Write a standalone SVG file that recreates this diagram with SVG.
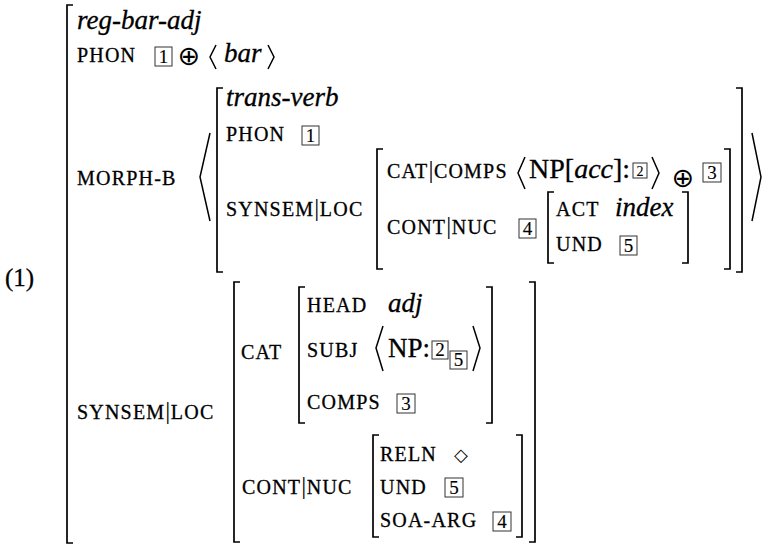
<svg xmlns="http://www.w3.org/2000/svg" width="765" height="546" viewBox="0 0 765 546">
<style>
text { font-family: 'Liberation Serif', 'Times New Roman', serif; fill: #000; stroke: #000; stroke-width: 0.3px; }
.it { font-style: italic; font-size: 27px; }
.rm { font-size: 27px; }
.sc { font-size: 20px; letter-spacing: 1.2px; }
.vb { font-size: 25px; letter-spacing: 0.5px; stroke-width: 0; }
.num { font-size: 19px; text-anchor: middle; stroke-width: 0.15px; }
.snum { font-size: 14px; text-anchor: middle; stroke-width: 0.1px; }
.op { font-family: 'DejaVu Sans', sans-serif; font-size: 27px; text-anchor: middle; stroke-width: 0; }
.dia { font-family: 'DejaVu Sans', sans-serif; font-size: 18px; text-anchor: middle; stroke-width: 0; }
.br { fill: none; stroke: #000; stroke-width: 1.7; }
.ang { fill: none; stroke: #000; stroke-width: 1.5; stroke-linejoin: miter; }
.box { fill: none; stroke: #333; stroke-width: 1; }
</style>
<rect width="765" height="546" fill="#fff"/>

<text x="5" y="286" class="rm" style="font-size:25px">(1)</text>

<g id="outer">
  <path class="br" d="M73,5 H67 V543 H73"/>
  <text x="77" y="29" class="it">reg-bar-adj</text>
  <text x="77" y="62" class="sc">PHON</text>
  <rect class="box" x="155" y="47" width="17" height="19"/>
  <text x="163.5" y="63" class="num">1</text>
  <text x="189" y="65" class="op">⊕</text>
  <polyline class="ang" points="216,45 210,57 216,69"/>
  <text x="224" y="62" class="it">bar</text>
  <polyline class="ang" points="268,45 274,57 268,69"/>
  <text x="77" y="185" class="sc">MORPH-B</text>
  <text x="77" y="419" class="sc">SYNSEM<tspan class="vb">|</tspan>LOC</text>
</g>

<g id="morph-b-list">
  <polyline class="ang" points="210,133 200,177 210,221"/>
  <polyline class="ang" points="752,133 761,177 752,221"/>
</g>

<g id="trans-verb">
  <path class="br" d="M223,88 H217 V272 H223"/>
  <path class="br" d="M736,88 H742 V272 H736"/>
  <text x="226" y="106" class="it">trans-verb</text>
  <text x="226" y="141" class="sc">PHON</text>
  <rect class="box" x="302" y="126" width="17" height="19"/>
  <text x="310.5" y="142" class="num">1</text>
  <text x="226" y="216" class="sc">SYNSEM<tspan class="vb">|</tspan>LOC</text>
</g>

<g id="tv-loc">
  <path class="br" d="M383,149 H377 V269 H383"/>
  <path class="br" d="M724,149 H730 V269 H724"/>
  <text x="387" y="178" class="sc">CAT<tspan class="vb">|</tspan>COMPS</text>
  <polyline class="ang" points="525,157 518,173 525,189"/>
  <text x="529" y="178" class="rm" style="font-size:28px">NP[<tspan font-style="italic">acc</tspan>]:</text>
  <rect class="box" x="633" y="163" width="14" height="15"/>
  <text x="640" y="176" class="snum">2</text>
  <polyline class="ang" points="652,157 659,173 652,189"/>
  <text x="683" y="187" class="op">⊕</text>
  <rect class="box" x="703" y="163" width="18" height="19"/>
  <text x="712" y="179" class="num">3</text>
  <text x="387" y="234" class="sc">CONT<tspan class="vb">|</tspan>NUC</text>
  <rect class="box" x="519" y="219" width="17" height="19"/>
  <text x="527.5" y="235" class="num">4</text>
</g>

<g id="tv-nuc">
  <path class="br" d="M554,192 H548 V263 H554"/>
  <path class="br" d="M682,192 H688 V263 H682"/>
  <text x="556" y="216" class="sc">ACT</text>
  <text x="615" y="216" class="it">index</text>
  <text x="556" y="251" class="sc">UND</text>
  <rect class="box" x="620" y="236" width="17" height="19"/>
  <text x="628.5" y="252" class="num">5</text>
</g>

<g id="adj-loc">
  <path class="br" d="M240,282 H234 V542 H240"/>
  <path class="br" d="M529,282 H535 V542 H529"/>
  <text x="241" y="359" class="sc">CAT</text>
  <text x="242" y="494" class="sc">CONT<tspan class="vb">|</tspan>NUC</text>
</g>

<g id="adj-cat">
  <path class="br" d="M305,287 H299 V423 H305"/>
  <path class="br" d="M486,287 H492 V423 H486"/>
  <text x="307" y="312" class="sc">HEAD</text>
  <text x="388" y="312" class="it">adj</text>
  <text x="307" y="357" class="sc">SUBJ</text>
  <polyline class="ang" points="383,326 376,348 383,371"/>
  <text x="388" y="357" class="rm">NP:</text>
  <rect class="box" x="432" y="341" width="16" height="18"/>
  <text x="440" y="356" class="num">2</text>
  <rect class="box" x="450" y="351" width="17" height="18"/>
  <text x="458.5" y="366" class="num">5</text>
  <polyline class="ang" points="473,326 480,348 473,371"/>
  <text x="307" y="409" class="sc">COMPS</text>
  <rect class="box" x="397" y="394" width="18" height="19"/>
  <text x="406" y="410" class="num">3</text>
</g>

<g id="adj-nuc">
  <path class="br" d="M379,435 H373 V537 H379"/>
  <path class="br" d="M516,435 H522 V537 H516"/>
  <text x="380" y="461" class="sc">RELN</text>
  <text x="461" y="461" class="dia">◇</text>
  <text x="380" y="494" class="sc">UND</text>
  <rect class="box" x="445" y="478" width="18" height="19"/>
  <text x="454" y="494" class="num">5</text>
  <text x="380" y="527" class="sc">SOA-ARG</text>
  <rect class="box" x="493" y="512" width="18" height="19"/>
  <text x="502" y="528" class="num">4</text>
</g>
</svg>
